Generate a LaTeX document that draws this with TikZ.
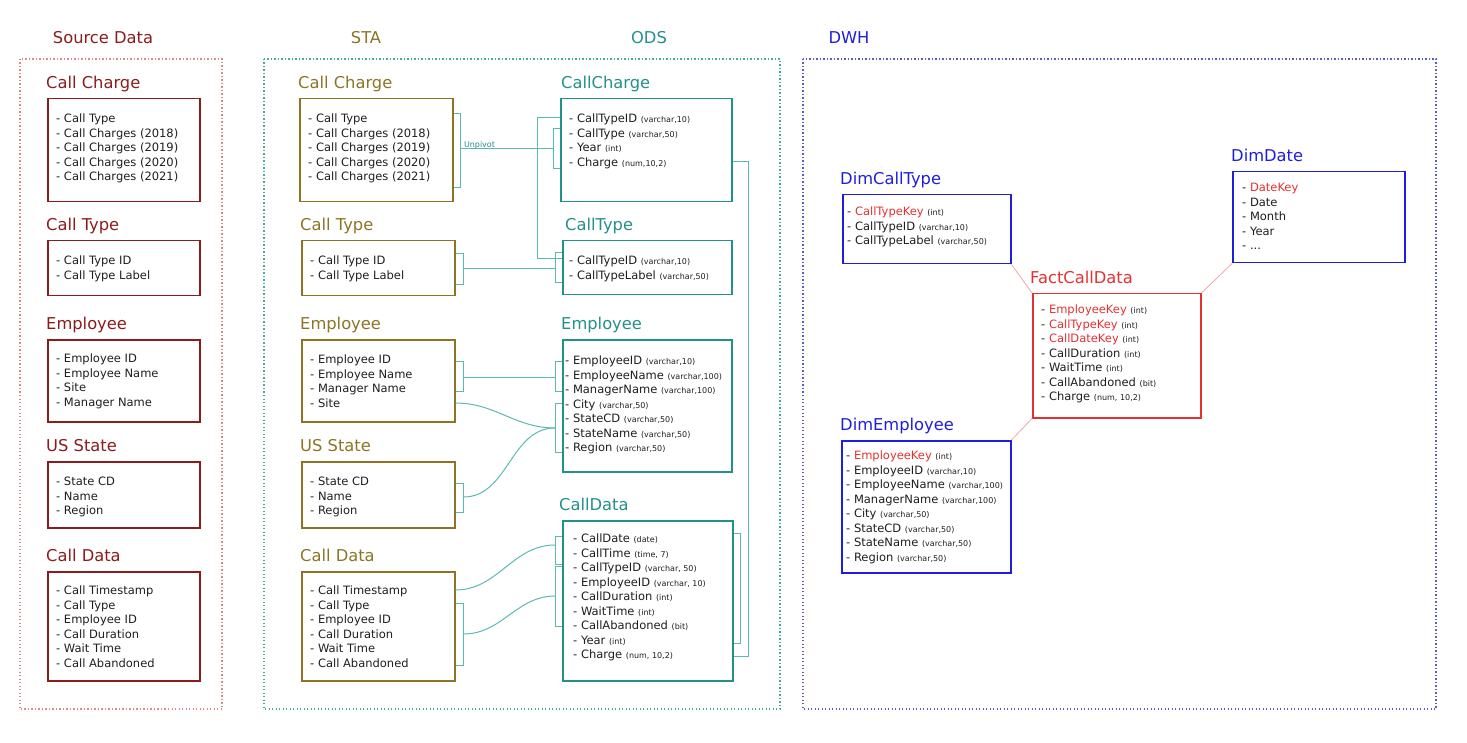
\documentclass[tikz,border=0pt]{standalone}
\usepackage{fontspec}
\setmainfont{DejaVu Sans}
\usepackage{xcolor}
\usetikzlibrary{positioning}

\definecolor{srcred}{HTML}{8B1C1C}
\definecolor{srcdots}{HTML}{D98A8A}
\definecolor{staolive}{HTML}{8C7424}
\definecolor{odsteal}{HTML}{23908A}
\definecolor{linkteal}{HTML}{5CB9B2}
\definecolor{stadots}{HTML}{45AA9C}
\definecolor{dwhblue}{HTML}{1E1EDC}
\definecolor{dwhdots}{HTML}{5A5AD2}
\definecolor{keyred}{HTML}{E53030}
\definecolor{starpink}{HTML}{F2A8A8}
\definecolor{itemgray}{HTML}{1E1E1E}

\newcommand{\dtype}[1]{{\fontsize{8}{8}\selectfont #1}}
\newcommand{\keyname}[1]{\textcolor{keyred}{#1}}

\begin{document}
\begin{tikzpicture}[x=1pt, y=-1pt]
    % Define styles
    \tikzstyle{layerhead} = [anchor=base, inner sep=0pt, font=\fontsize{16.3}{18}\selectfont]
    \tikzstyle{layerframe} = [line width=1.2pt, dash pattern=on 1.2pt off 2.3pt]
    \tikzstyle{tablebox} = [rectangle, anchor=north west, line width=1.5pt, inner sep=0pt]
    \tikzstyle{tabletitle} = [inner sep=0pt, text depth=0pt, font=\fontsize{16.3}{18}\selectfont]
    \tikzstyle{items} = [inner sep=0pt, align=left, text=itemgray, font=\fontsize{11.5}{14.5}\selectfont]
    \tikzstyle{link} = [line width=1pt, draw=linkteal]
    \tikzstyle{starlink} = [line width=0.8pt, draw=starpink]

    \useasboundingbox (0,0) rectangle (1467,743);

    % Layer headers and frames
    \node[layerhead, text=srcred] (srcHead) at (103,44) {Source Data};
    \node[layerhead, text=staolive] (staHead) at (366,44) {STA};
    \node[layerhead, text=odsteal] (odsHead) at (649,44) {ODS};
    \node[layerhead, text=dwhblue] (dwhHead) at (849,44) {DWH};
    \draw[layerframe, draw=srcdots] (20,59) rectangle (222,709);
    \draw[layerframe, draw=stadots] (264,59) rectangle (780,709);
    \draw[layerframe, draw=dwhdots] (803,59) rectangle (1436,709);

    % Source data - files
    \node[tablebox, draw=srcred, minimum width=152pt, minimum height=103pt] (srcCharge) at (47,98) {};
    \node[tabletitle, text=srcred, above right=9.5pt and -1pt of srcCharge.north west] (srcChargeTitle) {Call Charge};
    \node[items, below right=16pt and 9pt of srcCharge.north west] (srcChargeList) {- Call Type\\- Call Charges (2018)\\- Call Charges (2019)\\- Call Charges (2020)\\- Call Charges (2021)};

    \node[tablebox, draw=srcred, minimum width=152pt, minimum height=55pt] (srcType) at (47,240) {};
    \node[tabletitle, text=srcred, above right=9.5pt and -1pt of srcType.north west] (srcTypeTitle) {Call Type};
    \node[items, below right=16pt and 9pt of srcType.north west] (srcTypeList) {- Call Type ID\\- Call Type Label};

    \node[tablebox, draw=srcred, minimum width=152pt, minimum height=82pt] (srcEmp) at (47,339) {};
    \node[tabletitle, text=srcred, above right=9.5pt and -1pt of srcEmp.north west] (srcEmpTitle) {Employee};
    \node[items, below right=15pt and 9pt of srcEmp.north west] (srcEmpList) {- Employee ID\\- Employee Name\\- Site\\- Manager Name};

    \node[tablebox, draw=srcred, minimum width=152pt, minimum height=66pt] (srcState) at (47,461) {};
    \node[tabletitle, text=srcred, above right=9.5pt and -1pt of srcState.north west] (srcStateTitle) {US State};
    \node[items, below right=16pt and 9pt of srcState.north west] (srcStateList) {- State CD\\- Name\\- Region};

    \node[tablebox, draw=srcred, minimum width=152pt, minimum height=109pt] (srcCall) at (47,571) {};
    \node[tabletitle, text=srcred, above right=9.5pt and -1pt of srcCall.north west] (srcCallTitle) {Call Data};
    \node[items, below right=15pt and 9pt of srcCall.north west] (srcCallList) {- Call Timestamp\\- Call Type\\- Employee ID\\- Call Duration\\- Wait Time\\- Call Abandoned};

    % STA - staging tables
    \node[tablebox, draw=staolive, minimum width=153pt, minimum height=103pt] (staCharge) at (299,98) {};
    \node[tabletitle, text=staolive, above right=9.5pt and -1pt of staCharge.north west] (staChargeTitle) {Call Charge};
    \node[items, below right=16pt and 9pt of staCharge.north west] (staChargeList) {- Call Type\\- Call Charges (2018)\\- Call Charges (2019)\\- Call Charges (2020)\\- Call Charges (2021)};

    \node[tablebox, draw=staolive, minimum width=153pt, minimum height=55pt] (staType) at (301,240) {};
    \node[tabletitle, text=staolive, above right=9.5pt and -1pt of staType.north west] (staTypeTitle) {Call Type};
    \node[items, below right=16pt and 9pt of staType.north west] (staTypeList) {- Call Type ID\\- Call Type Label};

    \node[tablebox, draw=staolive, minimum width=153pt, minimum height=82pt] (staEmp) at (301,339) {};
    \node[tabletitle, text=staolive, above right=9.5pt and -1pt of staEmp.north west] (staEmpTitle) {Employee};
    \node[items, below right=16pt and 9pt of staEmp.north west] (staEmpList) {- Employee ID\\- Employee Name\\- Manager Name\\- Site};

    \node[tablebox, draw=staolive, minimum width=153pt, minimum height=66pt] (staState) at (301,461) {};
    \node[tabletitle, text=staolive, above right=9.5pt and -1pt of staState.north west] (staStateTitle) {US State};
    \node[items, below right=16pt and 9pt of staState.north west] (staStateList) {- State CD\\- Name\\- Region};

    \node[tablebox, draw=staolive, minimum width=153pt, minimum height=109pt] (staCall) at (301,571) {};
    \node[tabletitle, text=staolive, above right=9.5pt and -1pt of staCall.north west] (staCallTitle) {Call Data};
    \node[items, below right=15pt and 9pt of staCall.north west] (staCallList) {- Call Timestamp\\- Call Type\\- Employee ID\\- Call Duration\\- Wait Time\\- Call Abandoned};

    % ODS - cleaned tables
    \node[tablebox, draw=odsteal, minimum width=171pt, minimum height=103pt] (odsCharge) at (560,98) {};
    \node[tabletitle, text=odsteal, above right=9.5pt and 1pt of odsCharge.north west] (odsChargeTitle) {CallCharge};
    \node[items, below right=16pt and 9pt of odsCharge.north west] (odsChargeList) {- CallTypeID \dtype{(varchar,10)}\\- CallType \dtype{(varchar,50)}\\- Year \dtype{(int)}\\- Charge \dtype{(num,10,2)}};

    \node[tablebox, draw=odsteal, minimum width=169pt, minimum height=54pt] (odsType) at (562,240) {};
    \node[tabletitle, text=odsteal, above right=9.5pt and 3pt of odsType.north west] (odsTypeTitle) {CallType};
    \node[items, below right=16pt and 7pt of odsType.north west] (odsTypeList) {- CallTypeID \dtype{(varchar,10)}\\- CallTypeLabel \dtype{(varchar,50)}};

    \node[tablebox, draw=odsteal, minimum width=169pt, minimum height=132pt] (odsEmp) at (562,339) {};
    \node[tabletitle, text=odsteal, above right=9.5pt and -1pt of odsEmp.north west] (odsEmpTitle) {Employee};
    \node[items, below right=17pt and 3pt of odsEmp.north west] (odsEmpList) {- EmployeeID \dtype{(varchar,10)}\\- EmployeeName \dtype{(varchar,100)}\\- ManagerName \dtype{(varchar,100)}\\- City \dtype{(varchar,50)}\\- StateCD \dtype{(varchar,50)}\\- StateName \dtype{(varchar,50)}\\- Region \dtype{(varchar,50)}};

    \node[tablebox, draw=odsteal, minimum width=170pt, minimum height=160pt] (odsCall) at (562,520) {};
    \node[tabletitle, text=odsteal, above right=9.5pt and -3pt of odsCall.north west] (odsCallTitle) {CallData};
    \node[items, below right=14pt and 11pt of odsCall.north west] (odsCallList) {- CallDate \dtype{(date)}\\- CallTime \dtype{(time, 7)}\\- CallTypeID \dtype{(varchar, 50)}\\- EmployeeID \dtype{(varchar, 10)}\\- CallDuration \dtype{(int)}\\- WaitTime \dtype{(int)}\\- CallAbandoned \dtype{(bit)}\\- Year \dtype{(int)}\\- Charge \dtype{(num, 10,2)}};

    % STA -> ODS mappings
    \draw[link] ([yshift=-16pt]staCharge.north east) -| ++(7pt,-74pt) -- ++(-7pt,0pt);
    \draw[link] ([yshift=-31pt]odsCharge.north west) -| ++(-7pt,-40pt) -- ++(7pt,0pt);
    \draw[link] ([shift={(7pt,-51pt)}]staCharge.north east) -- node[pos=0, anchor=base west, xshift=3pt, yshift=1.5pt, inner sep=0pt, text=odsteal, font=\fontsize{8}{8}\selectfont] (unpivot) {Unpivot} ([shift={(-7pt,-51pt)}]odsCharge.north west);
    \draw[link] ([yshift=-20pt]odsCharge.north west) -- ++(-23pt,0pt) |- ([yshift=-19pt]odsType.north west);
    \draw[link] ([yshift=-64pt]odsCharge.north east) -- ++(16pt,0pt) |- ([yshift=-136pt]odsCall.north east);

    \draw[link] ([yshift=-14pt]staType.north east) -| ++(8pt,-31pt) -- ++(-8pt,0pt);
    \draw[link] ([yshift=-13pt]odsType.north west) -| ++(-7pt,-30pt) -- ++(7pt,0pt);
    \draw[link] ([shift={(8pt,-29pt)}]staType.north east) -- ([shift={(-7pt,-29pt)}]odsType.north west);

    \draw[link] ([yshift=-22pt]staEmp.north east) -| ++(8pt,-30pt) -- ++(-8pt,0pt);
    \draw[link] ([yshift=-22pt]odsEmp.north west) -| ++(-7pt,-30pt) -- ++(7pt,0pt);
    \draw[link] ([yshift=-64pt]odsEmp.north west) -| ++(-7pt,-49pt) -- ++(7pt,0pt);
    \draw[link] ([shift={(8pt,-38pt)}]staEmp.north east) -- ([shift={(-7pt,-38pt)}]odsEmp.north west);
    \draw[link] ([yshift=-64pt]staEmp.north east) to[out=0, in=180] ([shift={(-7pt,-89pt)}]odsEmp.north west);
    \draw[link] ([yshift=-22pt]staState.north east) -| ++(8pt,-29pt) -- ++(-8pt,0pt);
    \draw[link] ([shift={(8pt,-36pt)}]staState.north east) to[out=0, in=180] ([shift={(-7pt,-89pt)}]odsEmp.north west);

    \draw[link] ([yshift=-16pt]odsCall.north west) -| ++(-7pt,-28pt) -- ++(7pt,0pt);
    \draw[link] ([yshift=-46pt]odsCall.north west) -| ++(-7pt,-60pt) -- ++(7pt,0pt);
    \draw[link] ([yshift=-32pt]staCall.north east) -| ++(8pt,-62pt) -- ++(-8pt,0pt);
    \draw[link] ([yshift=-19pt]staCall.north east) to[out=0, in=180] ([shift={(-7pt,-25pt)}]odsCall.north west);
    \draw[link] ([shift={(8pt,-63pt)}]staCall.north east) to[out=0, in=180] ([shift={(-7pt,-76pt)}]odsCall.north west);
    \draw[link] ([yshift=-13pt]odsCall.north east) -| ++(7pt,-110pt) -- ++(-7pt,0pt);

    % DWH - star schema
    \node[tablebox, draw=dwhblue, minimum width=168pt, minimum height=69pt] (dimType) at (842,194) {};
    \node[tabletitle, text=dwhblue, above right=9.5pt and -2pt of dimType.north west] (dimTypeTitle) {DimCallType};
    \node[items, below right=13pt and 5pt of dimType.north west] (dimTypeList) {- \keyname{CallTypeKey} \dtype{(int)}\\- CallTypeID \dtype{(varchar,10)}\\- CallTypeLabel \dtype{(varchar,50)}};

    \node[tablebox, draw=dwhblue, minimum width=172pt, minimum height=91pt] (dimDate) at (1232,171) {};
    \node[tabletitle, text=dwhblue, above right=9.5pt and -1pt of dimDate.north west] (dimDateTitle) {DimDate};
    \node[items, below right=12pt and 10pt of dimDate.north west] (dimDateList) {- \keyname{DateKey}\\- Date\\- Month\\- Year\\- ...};

    \node[tablebox, draw=keyred, minimum width=168pt, minimum height=124pt] (fact) at (1032,293) {};
    \node[tabletitle, text=keyred, above right=9.5pt and -2pt of fact.north west] (factTitle) {FactCallData};
    \node[items, below right=12pt and 9pt of fact.north west] (factList) {- \keyname{EmployeeKey} \dtype{(int)}\\- \keyname{CallTypeKey} \dtype{(int)}\\- \keyname{CallDateKey} \dtype{(int)}\\- CallDuration \dtype{(int)}\\- WaitTime \dtype{(int)}\\- CallAbandoned \dtype{(bit)}\\- Charge \dtype{(num, 10,2)}};

    \node[tablebox, draw=dwhblue, minimum width=169pt, minimum height=132pt] (dimEmp) at (841,440) {};
    \node[tabletitle, text=dwhblue, above right=9.5pt and -1pt of dimEmp.north west] (dimEmpTitle) {DimEmployee};
    \node[items, below right=11pt and 5pt of dimEmp.north west] (dimEmpList) {- \keyname{EmployeeKey} \dtype{(int)}\\- EmployeeID \dtype{(varchar,10)}\\- EmployeeName \dtype{(varchar,100)}\\- ManagerName \dtype{(varchar,100)}\\- City \dtype{(varchar,50)}\\- StateCD \dtype{(varchar,50)}\\- StateName \dtype{(varchar,50)}\\- Region \dtype{(varchar,50)}};

    % Star links
    \draw[starlink] (dimType.south east) -- (fact.north west);
    \draw[starlink] (dimDate.south west) -- (fact.north east);
    \draw[starlink] (dimEmp.north east) -- (fact.south west);

\end{tikzpicture}
\end{document}
